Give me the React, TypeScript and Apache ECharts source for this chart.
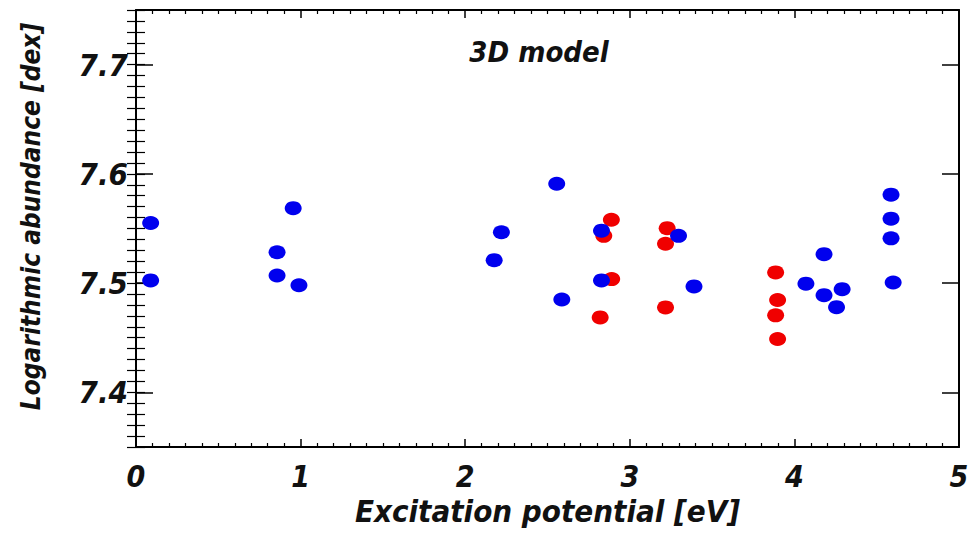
import React, { useEffect, useRef } from "react";
import * as echarts from "echarts";

// Excitation potential [eV], logarithmic abundance [dex]
const blueX = [0.089, 0.089, 0.955, 0.857, 0.857, 0.99, 2.176, 2.22, 2.556, 2.587, 2.828, 2.828, 3.296, 3.39, 4.07, 4.18, 4.18, 4.29, 4.256, 4.587, 4.587, 4.587, 4.6];
const blueY = [7.555, 7.5025, 7.5686, 7.5283, 7.507, 7.498, 7.521, 7.5466, 7.591, 7.485, 7.548, 7.5025, 7.5433, 7.497, 7.4995, 7.5265, 7.489, 7.4945, 7.478, 7.581, 7.559, 7.541, 7.5006];
const redX = [2.888, 2.842, 2.89, 2.82, 3.227, 3.217, 3.217, 3.886, 3.898, 3.886, 3.898];
const redY = [7.558, 7.5433, 7.5037, 7.4686, 7.5503, 7.536, 7.4778, 7.5098, 7.4845, 7.4705, 7.4488];
const yMajorTicks = [7.4, 7.5, 7.6, 7.7];
const xTitle = "Excitation potential [eV]";
const yTitle = "Logarithmic abundance [dex]";
const panelLabel = "3D model";

const FONT = "'DejaVu Sans Condensed', 'DejaVu Sans', 'Liberation Sans', sans-serif";

export default function App() {
  const ref = useRef<HTMLDivElement>(null);
  useEffect(() => {
    document.body.style.margin = "0";
    const chart = echarts.init(ref.current!, null, { renderer: "svg" });
    const lineStyle = { color: "#000", width: 2 };
    const baseX = {
      type: "value",
      min: 0,
      max: 5,
      interval: 1,
      splitLine: { show: false },
      axisLine: { show: true, onZero: false, lineStyle },
      axisTick: { show: true, inside: true, length: 8, lineStyle: { color: "#000", width: 1.5 } },
      minorTick: { show: true, splitNumber: 10, length: 4, lineStyle: { color: "#000", width: 1.2 } },
      minorSplitLine: { show: false },
    };
    const baseYMajor = {
      type: "value",
      min: 7.35,
      max: 7.75,
      splitLine: { show: false },
      axisLine: { show: true, onZero: false, lineStyle },
      axisTick: { show: true, inside: true, length: 17, customValues: yMajorTicks, lineStyle: { color: "#000", width: 1.5 } },
    };
    const baseYMinor = {
      type: "value",
      min: 7.35,
      max: 7.75,
      interval: 0.01,
      splitLine: { show: false },
      axisLine: { show: false },
      axisLabel: { show: false },
      axisTick: { show: true, inside: true, length: 9, lineStyle: { color: "#000", width: 1.2 } },
    };
    const pts = (xs: number[], ys: number[]) => xs.map((x, i) => [x, ys[i]]);
    chart.setOption({
      animation: false,
      backgroundColor: "#fff",
      grid: { left: 136, right: 13, top: 10, bottom: 89, containLabel: false },
      xAxis: [
        {
          ...baseX,
          position: "bottom",
          name: xTitle,
          nameLocation: "middle",
          nameGap: 39,
          nameTextStyle: { fontFamily: FONT, fontSize: 31, fontStyle: "italic", fontWeight: "bold", color: "#111" },
          axisLabel: { show: true, margin: 14, fontFamily: FONT, fontSize: 30, fontStyle: "italic", fontWeight: "bold", color: "#111" },
        },
        { ...baseX, position: "top", axisLabel: { show: false } },
      ],
      yAxis: [
        {
          ...baseYMajor,
          position: "left",
          name: yTitle,
          nameLocation: "middle",
          nameGap: 92,
          nameTextStyle: { fontFamily: FONT, fontSize: 26, fontStyle: "italic", fontWeight: "bold", color: "#111", padding: [0, 0, 0, 24] },
          axisLabel: {
            show: true,
            customValues: yMajorTicks,
            margin: 8,
            fontFamily: FONT,
            fontSize: 31,
            fontStyle: "italic",
            fontWeight: "bold",
            color: "#111",
            formatter: (v: number) => v.toFixed(1),
          },
        },
        { ...baseYMinor, position: "left" },
        { ...baseYMajor, position: "right", axisLabel: { show: false } },
        { ...baseYMinor, position: "right" },
      ],
      graphic: [
        {
          type: "text",
          x: 539,
          y: 52,
          style: {
            text: panelLabel,
            fontFamily: FONT,
            fontSize: 29,
            fontStyle: "italic",
            fontWeight: "bold",
            fill: "#111",
            textAlign: "center",
            textVerticalAlign: "middle",
          },
        },
      ],
      series: [
        {
          type: "scatter",
          name: "red",
          xAxisIndex: 0,
          yAxisIndex: 0,
          data: pts(redX, redY),
          symbol: "circle",
          symbolSize: [17, 14],
          itemStyle: { color: "#f00000", opacity: 1 },
        },
        {
          type: "scatter",
          name: "blue",
          xAxisIndex: 0,
          yAxisIndex: 0,
          data: pts(blueX, blueY),
          symbol: "circle",
          symbolSize: [17, 14],
          itemStyle: { color: "#0000ee", opacity: 1 },
        },
      ],
    });
    return () => chart.dispose();
  }, []);
  return <div ref={ref} style={{ width: 972, height: 536 }} />;
}
